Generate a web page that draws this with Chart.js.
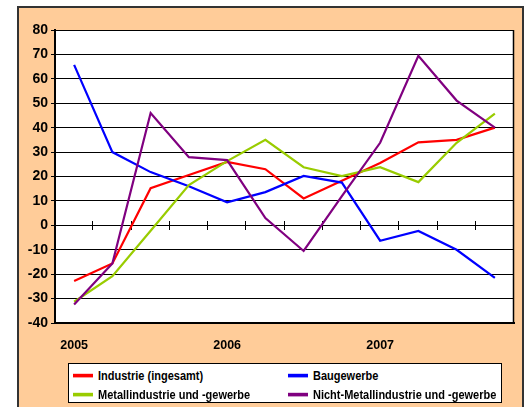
<!DOCTYPE html>
<html><head><meta charset="utf-8">
<script src="https://cdn.jsdelivr.net/npm/chart.js@4"></script>
<style>
html,body{margin:0;padding:0;background:#fff;}
#wrap{position:relative;width:528px;height:407px;overflow:hidden;}
#frame{position:absolute;left:17px;top:6px;width:507px;height:430px;box-sizing:border-box;border:2px solid #333;background:#FFCC99;}
#c{position:absolute;left:0;top:0;}
#legend{position:absolute;left:68px;top:363px;width:434px;height:40px;box-sizing:border-box;border:1px solid #000;background:#fff;font:bold 11px "Liberation Sans",Arial,sans-serif;color:#000;}
.item{position:absolute;height:16px;line-height:16px;white-space:nowrap;transform-origin:left center;}
.swatch{display:inline-block;width:20px;height:3px;vertical-align:middle;margin-right:5px;position:relative;top:-1px;}
</style></head>
<body><div id="wrap"><div id="frame"></div><canvas id="c" width="528" height="407"></canvas><div id="legend"></div></div>
<script>
const categories = ['2005 Q1','2005 Q2','2005 Q3','2005 Q4','2006 Q1','2006 Q2','2006 Q3','2006 Q4','2007 Q1','2007 Q2','2007 Q3','2007 Q4'];
const tickLabels = ['2005','','','','2006','','','','2007','','',''];
const seriesNames = ['Industrie (ingesamt)','Baugewerbe','Metallindustrie und -gewerbe','Nicht-Metallindustrie und -gewerbe'];
const industrie = [-22.8, -15.6, 15.2, 20.6, 26, 23, 11, 18.3, 25.5, 34, 35, 40];
const baugewerbe = [65.7, 30, 21.8, 16, 9.4, 13.6, 20.2, 17.5, -6.3, -2.3, -10, -21.5];
const metall = [-31.3, -20.8, -2.2, 16.5, 26.3, 35, 23.8, 20.2, 23.8, 17.7, 33.8, 45.8];
const nichtMetall = [-32.4, -15.6, 46, 27.9, 26.7, 3, -10.5, 12, 33.8, 69.4, 51.1, 40];
const colors = ['#FF0000','#0000FF','#99CC00','#800080'];

const plotDecor = {
  id: 'plotDecor',
  beforeDraw(chart) {
    const {ctx, chartArea: a} = chart;
    ctx.save();
    ctx.fillStyle = '#fff';
    ctx.fillRect(a.left, a.top, a.right - a.left, a.bottom - a.top);
    ctx.restore();
  },
  beforeDatasetsDraw(chart) {
    const {ctx, chartArea: a, scales} = chart;
    ctx.save();
    ctx.strokeStyle = '#000';
    ctx.lineWidth = 1.5;
    ctx.beginPath();
    ctx.moveTo(Math.round(a.right) - 0.5, a.top);
    ctx.lineTo(Math.round(a.right) - 0.5, a.bottom);
    ctx.stroke();
    ctx.lineWidth = 1;
    const xs = scales.x, y0 = Math.round(scales.y.getPixelForValue(0));
    const n = categories.length;
    const step = (a.right - a.left) / n;
    ctx.beginPath();
    for (let i = 1; i <= n; i++) {
      const x = Math.round(xs.getPixelForValue(i - 1) + step / 2) - 0.5;
      ctx.moveTo(x, y0 - 4);
      ctx.lineTo(x, y0 + 5);
    }
    ctx.stroke();
    ctx.restore();
  }
};

const series = [industrie, baugewerbe, metall, nichtMetall];
const chart = new Chart(document.getElementById('c'), {
  type: 'line',
  data: {
    labels: categories,
    datasets: series.map((d, i) => ({
      label: seriesNames[i],
      data: d,
      borderColor: colors[i],
      backgroundColor: colors[i],
      borderWidth: 2.2,
      pointRadius: 0,
      tension: 0,
      fill: false,
      order: 4 - i
    }))
  },
  options: {
    responsive: false,
    animation: false,
    devicePixelRatio: 1,
    layout: { padding: { left: 0, right: 14, top: 30, bottom: 0 } },
    plugins: { legend: { display: false }, tooltip: { enabled: false } },
    scales: {
      x: {
        offset: true,
        ticks: {
          autoSkip: false, maxRotation: 0, padding: 15, color: '#000',
          font: { family: '"Liberation Sans",Arial,sans-serif', size: 12.5, weight: 'bold' },
          callback: (v, i) => tickLabels[i]
        },
        grid: { display: false, drawTicks: false, offset: true },
        border: { color: '#000', width: 2 },
        afterFit(s) { s.height = 84; }
      },
      y: {
        min: -40, max: 80,
        ticks: {
          stepSize: 10, padding: 3, color: '#000',
          font: { family: '"Liberation Sans",Arial,sans-serif', size: 14, weight: 'bold' }
        },
        grid: { color: '#000', lineWidth: 1, tickLength: 4 },
        border: { color: '#000', width: 2 },
        afterFit(s) { s.width = 55; }
      }
    }
  },
  plugins: [plotDecor]
});

const legendEl = document.getElementById('legend');
const slots = [[4, 3], [219, 3], [4, 22], [219, 22]];
chart.data.datasets.forEach((ds, i) => {
  const it = document.createElement('div');
  it.className = 'item';
  it.style.left = slots[i][0] + 'px';
  it.style.top = slots[i][1] + 'px';
  it.style.transform = 'scaleY(1.2)';
  const sw = document.createElement('span');
  sw.className = 'swatch';
  sw.style.background = ds.borderColor;
  it.appendChild(sw);
  it.appendChild(document.createTextNode(ds.label));
  legendEl.appendChild(it);
});
</script>
</body></html>
